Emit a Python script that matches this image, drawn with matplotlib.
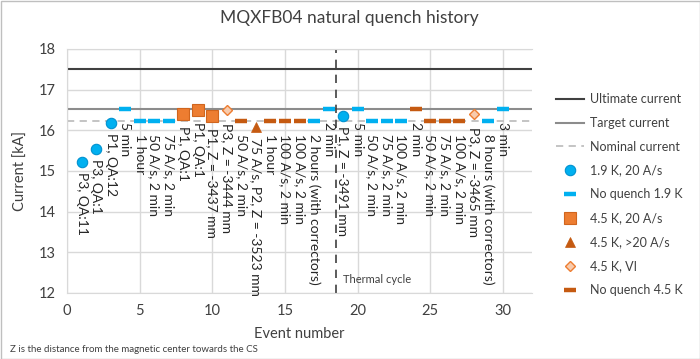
import matplotlib
matplotlib.use("Agg")
import matplotlib.pyplot as plt
from matplotlib.patches import Rectangle

plt.rcParams['font.family'] = ['Lato', 'DejaVu Sans']

# ---- data ----
ultimate_current = 17.5
target_current = 16.53
nominal_current = 16.23
thermal_cycle_x = 18.5

q19_x = [1, 2, 3, 19]
q19_y = [15.22, 15.54, 16.18, 16.36]
q19_lab = ["P3, QA:11", "P3, QA:1", "P1, QA:12", "P1, Z = -3491 mm"]

nq19_x = [4, 5, 6, 7, 17, 18, 20, 21, 22, 23, 29, 30]
nq19_y = [16.53, 16.23, 16.23, 16.23, 16.23, 16.53, 16.53, 16.23, 16.23, 16.23, 16.23, 16.53]
nq19_lab = ["5 min", "1 hour", "50 A/s, 2 min", "75 A/s, 2 min",
            "2 hours (with correctors)", "2 min", "5 min", "50 A/s, 2 min",
            "75 A/s, 2 min", "100 A/s, 2 min", "8 hours (with correctors)", "3 min"]

q45_x = [8, 9, 10]
q45_y = [16.41, 16.51, 16.36]
q45_lab = ["P1, QA:1", "P1, QA:1", "P1, Z = -3437 mm"]

q45f_x = [13]
q45f_y = [16.09]
q45f_lab = ["75 A/s, P2, Z = -3523 mm"]

vi_x = [11, 28]
vi_y = [16.50, 16.40]
vi_lab = ["P3, Z = -3444 mm", "P3, Z = -3465 mm"]

nq45_x = [12, 14, 15, 16, 24, 25, 26, 27]
nq45_y = [16.23, 16.23, 16.23, 16.23, 16.53, 16.23, 16.23, 16.23]
nq45_lab = ["50 A/s, 2 min", "1 hour", "100 A/s, 2 min", "100 A/s, 2 min",
            "2 min", "50 A/s, 2 min", "75 A/s, 2 min", "100 A/s, 2 min"]

x_ticks = [0, 5, 10, 15, 20, 25, 30]
y_ticks = [12, 13, 14, 15, 16, 17, 18]

# ---- figure ----
fig = plt.figure(figsize=(7.0, 3.59), dpi=100)
ax = fig.add_axes([67/700, 1-293/359, (532-67)/700, (293-49)/359])

blue = '#00B0F0'
orange = '#ED7D31'
dorange = '#C55A11'

ax.axhline(ultimate_current, color='#404040', lw=1.5, zorder=2, label='Ultimate current')
ax.axhline(target_current, color='#8C8C8C', lw=1.5, zorder=2, label='Target current')
ax.axhline(nominal_current, color='#BFBFBF', lw=1.3, ls=(0, (4, 3)), zorder=2, label='Nominal current')
ax.axvline(thermal_cycle_x, color='#404040', lw=1.2, ls=(0, (5, 4)), zorder=2)
ax.text(19.0, 12.32, "Thermal cycle", fontsize=8, color='#404040', va='center', ha='left')

ax.plot(q19_x, q19_y, ls='none', marker='o', ms=7.5, mfc=blue, mec='#0091D0', mew=0.8,
        zorder=5, label='1.9 K, 20 A/s')
ax.plot(nq19_x, nq19_y, ls='none', marker='_', ms=9, mew=3.2, color=blue, zorder=4,
        label='No quench 1.9 K')
ax.plot(q45_x, q45_y, ls='none', marker='s', ms=8.5, mfc=orange, mec='#D0651E', mew=0.8,
        zorder=5, label='4.5 K, 20 A/s')
ax.plot(q45f_x, q45f_y, ls='none', marker='^', ms=7, mfc=dorange, mec=dorange, mew=0.5,
        zorder=5, label='4.5 K, >20 A/s')
ax.plot(vi_x, vi_y, ls='none', marker='D', ms=5, mfc='#F8CBAD', mec=orange, mew=1.0,
        zorder=5, label='4.5 K, VI')
ax.plot(nq45_x, nq45_y, ls='none', marker='_', ms=9, mew=3.2, color=dorange, zorder=4,
        label='No quench 4.5 K')

def labels(xs, ys, labs, off):
    for x, y, t in zip(xs, ys, labs):
        ax.annotate(t, (x, y), xytext=(0, -off), textcoords='offset points',
                    rotation=270, ha='center', va='top', fontsize=10, color='#262626',
                    zorder=6)

labels(q19_x, q19_y, q19_lab, 7.2)
labels(nq19_x, nq19_y, nq19_lab, 9.4)
labels(q45_x, q45_y, q45_lab, 8.6)
labels(q45f_x, q45f_y, q45f_lab, 7.9)
labels(vi_x, vi_y, vi_lab, 9.2)
labels(nq45_x, nq45_y, nq45_lab, 9.4)

ax.set_xlim(0, 32)
ax.set_ylim(12, 18)
ax.set_xticks(x_ticks)
ax.set_yticks(y_ticks)
ax.tick_params(length=0, labelsize=10.5, colors='#404040', pad=8)
ax.grid(True, color='#D9D9D9', lw=1.0, zorder=0)
ax.set_axisbelow(True)
for s in ['left', 'bottom', 'top']:
    ax.spines[s].set_color('#D9D9D9')
ax.spines['right'].set_visible(False)

ax.set_xlabel("Event number", fontsize=10.5, color='#404040')
ax.set_ylabel("Current [kA]", fontsize=10.5, color='#404040', labelpad=8)
ax.xaxis.set_label_coords(0.5, -0.14)

fig.text(349/700, 1-18/359, "MQXFB04 natural quench history", fontsize=12.5, color='#404040',
         ha='center', va='center')
fig.text(10/700, 1-349/359, "Z is the distance from the magnetic center towards the CS",
         fontsize=7, color='#404040', ha='left', va='center')

leg = ax.legend(loc='upper left', bbox_to_anchor=(551/700, 1-88/359),
                bbox_transform=fig.transFigure, frameon=False, fontsize=9,
                labelspacing=0.95, handlelength=2.2, handletextpad=0.5, borderaxespad=0)
for t in leg.get_texts():
    t.set_color('#404040')

fig.patches.append(Rectangle((0.5/700, 0.5/359), 1-1/700, 1-1/359, transform=fig.transFigure,
                             fill=False, edgecolor='#BFBFBF', lw=1.0))

fig.savefig("out.png", dpi=100)
